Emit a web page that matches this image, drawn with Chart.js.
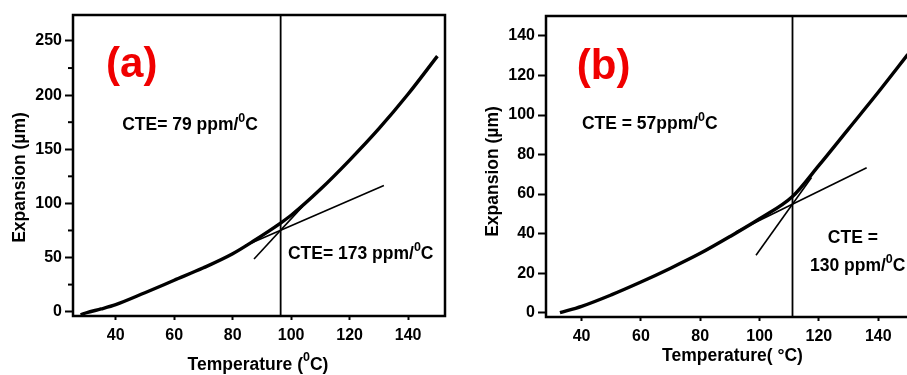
<!DOCTYPE html>
<html>
<head>
<meta charset="utf-8">
<script src="https://cdn.jsdelivr.net/npm/chart.js@4.4.1/dist/chart.umd.min.js"></script>
<style>
html,body{margin:0;padding:0;background:#fff;overflow:hidden;width:907px;height:375px;}
#ca{position:absolute;left:0;top:0;}
#cb{position:absolute;left:460px;top:0;}
</style>
</head>
<body>
<canvas id="ca" width="460" height="375"></canvas>
<canvas id="cb" width="447" height="375"></canvas>
<script>
// ---------- Panel (a) data ----------
const tempA = [28, 30, 35, 40, 50, 60, 70, 80, 87, 96.5, 100, 110, 120, 130, 140, 150];
const expA  = [-3, -1, 2.5, 6.5, 17.5, 29, 40.5, 53.5, 65, 82, 89, 113, 140, 169, 201, 236];
const tanA1T = [84, 131.7];      // CTE 79 tangent
const tanA1E = [60.6, 116.5];
const tanA2T = [87.3, 104];      // CTE 173 tangent
const tanA2E = [48.6, 97.5];
const vLineA = 96.4;
const xTicksA = [40, 60, 80, 100, 120, 140];
const yTicksA = [0, 50, 100, 150, 200, 250];
const yMinorA = [25, 75, 125, 175, 225];

// ---------- Panel (b) data ----------
const tempB = [32.7, 40, 50, 60, 70, 80, 90, 100, 111, 120, 130, 140, 150];
const expB  = [0, 3.2, 9, 15.5, 22.5, 30, 38.5, 47.5, 58.6, 74.5, 93, 111.5, 130.7];
const tanB1T = [92, 136.1];      // CTE 57 tangent
const tanB1E = [40.8, 73.3];
const tanB2T = [98.8, 117.5];    // CTE 130 tangent
const tanB2E = [29, 68.4];
const vLineB = 111.1;
const xTicksB = [40, 60, 80, 100, 120, 140];
const yTicksB = [0, 20, 40, 60, 80, 100, 120, 140];

const FONT = '"Liberation Sans", Arial, sans-serif';

function pts(xs, ys){ return xs.map((x,i)=>({x:x, y:ys[i]})); }

// draw a sequence of text segments: [text, size, raise]
function drawSegs(ctx, segs, x, y, align, color){
  ctx.save();
  ctx.fillStyle = color || '#000';
  ctx.textBaseline = 'middle';
  ctx.textAlign = 'left';
  let total = 0;
  segs.forEach(s=>{ ctx.font = 'bold ' + s[1] + 'px ' + FONT; total += ctx.measureText(s[0]).width; });
  let cx = align === 'center' ? x - total/2 : x;
  segs.forEach(s=>{
    ctx.font = 'bold ' + s[1] + 'px ' + FONT;
    ctx.fillText(s[0], cx, y - (s[2]||0));
    cx += ctx.measureText(s[0]).width;
  });
  ctx.restore();
}

function makeChart(id, cfg){
  const ax = {
    afterFit: s => { s.height = cfg.xAxisH; },
    type: 'linear', min: cfg.xMin, max: cfg.xMax,
    afterBuildTicks: s => { s.ticks = cfg.xTicks.map(v=>({value:v})); },
    ticks: { font: {family: FONT, size: 16, weight: 'bold'}, color: '#000', padding: 6, maxRotation: 0, autoSkip: false },
    grid: { drawOnChartArea: false, drawTicks: true, tickLength: 4, tickColor: '#000', tickWidth: 2 },
    border: { display: false }
  };
  const ay = {
    afterFit: s => { s.width = cfg.yAxisW; },
    type: 'linear', min: cfg.yMin, max: cfg.yMax,
    afterBuildTicks: s => { s.ticks = cfg.yTicks.map(v=>({value:v})); },
    ticks: { font: {family: FONT, size: 16, weight: 'bold'}, color: '#000', padding: 3, autoSkip: false },
    grid: { drawOnChartArea: false, drawTicks: true, tickLength: 8, tickColor: '#000', tickWidth: 2 },
    border: { display: false }
  };
  const deco = {
    id: 'deco',
    afterDatasetsDraw(chart){
      const ctx = chart.ctx, a = chart.chartArea;
      const xs = chart.scales.x, ys = chart.scales.y;
      ctx.save();
      ctx.strokeStyle = '#000'; ctx.lineWidth = 2.5;
      ctx.beginPath();
      if (cfg.fullFrame){
        ctx.rect(a.left, a.top, a.right - a.left, a.bottom - a.top);
      } else {
        ctx.moveTo(a.right + 2, a.top); ctx.lineTo(a.left, a.top); ctx.lineTo(a.left, a.bottom); ctx.lineTo(a.right + 2, a.bottom);
      }
      ctx.stroke();
      // minor ticks
      ctx.lineWidth = 2;
      (cfg.yMinor || []).forEach(v=>{
        const py = ys.getPixelForValue(v);
        ctx.beginPath(); ctx.moveTo(a.left - 5, py); ctx.lineTo(a.left, py); ctx.stroke();
      });
      ctx.restore();
      // annotations
      cfg.notes.forEach(n=>{
        drawSegs(ctx, n.segs, xs.getPixelForValue(n.x), ys.getPixelForValue(n.y), 'left', n.color);
      });
      // axis titles
      drawSegs(ctx, cfg.xTitle, (a.left + a.right)/2 + cfg.xTitleDx, cfg.xTitleY, 'center');
      ctx.save();
      ctx.translate(cfg.yTitleX, (a.top + a.bottom)/2 + cfg.yTitleDy);
      ctx.rotate(-Math.PI/2);
      drawSegs(ctx, cfg.yTitle, 0, 0, 'center');
      ctx.restore();
    }
  };
  return new Chart(document.getElementById(id), {
    type: 'line',
    data: { datasets: [
      { data: pts(cfg.t, cfg.e), borderColor: '#000', borderWidth: 3.4, pointRadius: 0, cubicInterpolationMode: 'monotone', fill: false },
      { data: pts(cfg.t1x, cfg.t1y), borderColor: '#000', borderWidth: 1.6, pointRadius: 0, fill: false },
      { data: pts(cfg.t2x, cfg.t2y), borderColor: '#000', borderWidth: 1.6, pointRadius: 0, fill: false },
      { data: pts([cfg.v, cfg.v], [cfg.yMin, cfg.yMax]), borderColor: '#000', borderWidth: 1.8, pointRadius: 0, fill: false }
    ]},
    options: {
      responsive: false, animation: false, devicePixelRatio: 1,
      layout: { padding: cfg.pad },
      plugins: { legend: {display:false}, tooltip: {enabled:false}, title: {display:false} },
      scales: { x: ax, y: ay }
    },
    plugins: [deco]
  });
}

makeChart('ca', {
  t: tempA, e: expA, t1x: tanA1T, t1y: tanA1E, t2x: tanA2T, t2y: tanA2E, v: vLineA,
  xMin: 25.4, xMax: 152.6, yMin: -4, yMax: 274,
  xTicks: xTicksA, yTicks: yTicksA, yMinor: yMinorA,
  xAxisH: 59, yAxisW: 73, pad: {left: 0, right: 15, top: 15, bottom: 0},
  fullFrame: true,
  notes: [
    {x: 36.7, y: 227, segs: [['(a)', 42, 0]], color: '#f00000'},
    {x: 42.2, y: 172, segs: [['CTE= 79 ppm/', 17.5, 0], ['0', 12.5, 7], ['C', 17.5, 0]]},
    {x: 98.9, y: 53, segs: [['CTE= 173 ppm/', 17.5, 0], ['0', 12.5, 7], ['C', 17.5, 0]]}
  ],
  xTitle: [['Temperature (', 17.5, 0], ['0', 12.5, 7], ['C)', 17.5, 0]], xTitleY: 365, xTitleDx: -1,
  yTitle: [['Expansion (\u00b5m)', 17.5, 0]], yTitleX: 20, yTitleDy: 12
});

makeChart('cb', {
  t: tempB, e: expB, t1x: tanB1T, t1y: tanB1E, t2x: tanB2T, t2y: tanB2E, v: vLineB,
  xMin: 28, xMax: 149.7, yMin: -2.2, yMax: 150.1,
  xTicks: xTicksB, yTicks: yTicksB,
  xAxisH: 58, yAxisW: 86, pad: {left: 0, right: 0, top: 16, bottom: 0},
  fullFrame: false,
  notes: [
    {x: 38.4, y: 124.3, segs: [['(b)', 42, 0]], color: '#f00000'},
    {x: 40.1, y: 95.4, segs: [['CTE = 57ppm/', 17.5, 0], ['0', 12.5, 7], ['C', 17.5, 0]]},
    {x: 123, y: 37.6, segs: [['CTE =', 17.5, 0]]},
    {x: 117, y: 23.5, segs: [['130 ppm/', 17.5, 0], ['0', 12.5, 7], ['C', 17.5, 0]]}
  ],
  xTitle: [['Temperature( \u00b0C)', 17.5, 0]], xTitleY: 356, xTitleDx: 6,
  yTitle: [['Expansion (\u00b5m)', 17.5, 0]], yTitleX: 33, yTitleDy: 5
});
</script>
</body>
</html>
